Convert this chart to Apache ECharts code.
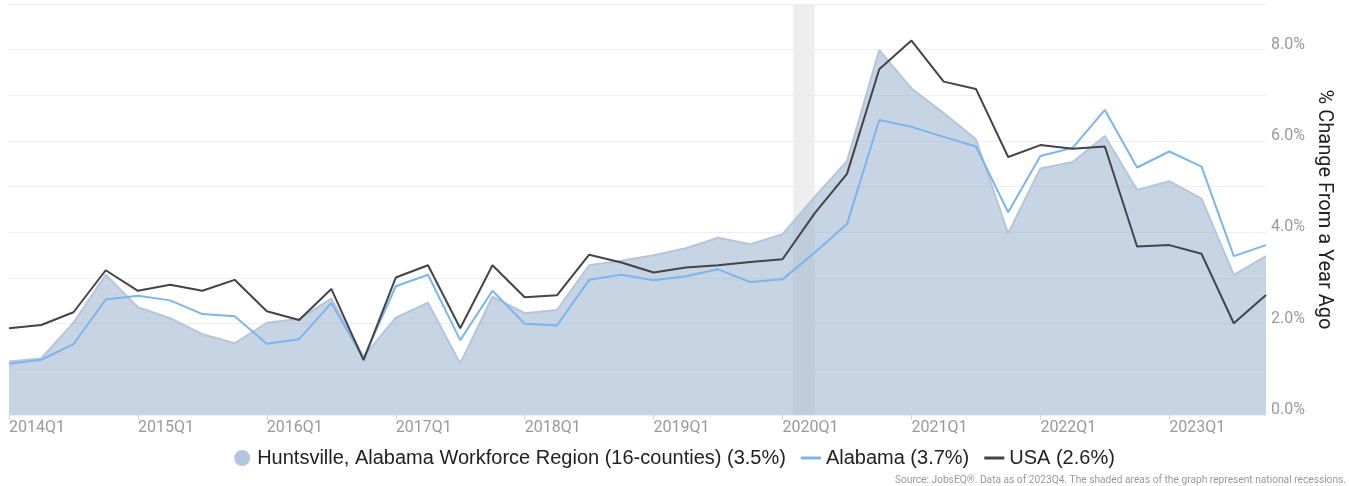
<!DOCTYPE html>
<html>
<head>
<meta charset="utf-8">
<script src="https://cdn.jsdelivr.net/npm/echarts@6/dist/echarts.min.js"></script>
<style>
html,body{margin:0;padding:0;background:#fff;}
#chart{width:1349px;height:486px;}
</style>
</head>
<body>
<div id="chart"></div>
<script>
var quarters = [
  '2014Q1','2014Q2','2014Q3','2014Q4','2015Q1','2015Q2','2015Q3','2015Q4',
  '2016Q1','2016Q2','2016Q3','2016Q4','2017Q1','2017Q2','2017Q3','2017Q4',
  '2018Q1','2018Q2','2018Q3','2018Q4','2019Q1','2019Q2','2019Q3','2019Q4',
  '2020Q1','2020Q2','2020Q3','2020Q4','2021Q1','2021Q2','2021Q3','2021Q4',
  '2022Q1','2022Q2','2022Q3','2022Q4','2023Q1','2023Q2','2023Q3','2023Q4'
];
var huntsville = [
  1.17,1.24,2.02,3.07,2.36,2.12,1.77,1.57,
  2.02,2.10,2.55,1.28,2.13,2.46,1.13,2.59,
  2.23,2.30,3.28,3.38,3.50,3.65,3.88,3.74,
  3.96,4.78,5.56,7.99,7.15,6.61,6.04,3.98,
  5.40,5.54,6.11,4.93,5.12,4.74,3.07,3.48
];
var alabama = [
  1.12,1.21,1.55,2.53,2.61,2.51,2.21,2.16,
  1.56,1.66,2.45,1.24,2.82,3.07,1.64,2.72,
  2.00,1.96,2.96,3.07,2.95,3.04,3.19,2.91,
  2.97,3.56,4.18,6.46,6.31,6.09,5.88,4.44,
  5.67,5.85,6.68,5.42,5.77,5.44,3.48,3.72
];
var usa = [
  1.90,1.97,2.25,3.17,2.72,2.85,2.72,2.96,
  2.27,2.08,2.76,1.20,3.01,3.28,1.90,3.28,
  2.58,2.62,3.51,3.34,3.12,3.23,3.28,3.35,
  3.41,4.42,5.28,7.57,8.20,7.30,7.14,5.65,
  5.91,5.83,5.88,3.69,3.72,3.53,2.01,2.63
];
var seriesNames = [
  'Huntsville, Alabama Workforce Region (16-counties) (3.5%)',
  'Alabama (3.7%)',
  'USA (2.6%)'
];
var xTickIndices = [0,4,8,12,16,20,24,28,32,36];
var yTicks = [0,1,2,3,4,5,6,7,8,9];
var recession = [24.33, 25]; // Feb 2020 - Apr 2020 in quarter-index units
var sourceText = 'Source: JobsEQ®. Data as of 2023Q4. The shaded areas of the graph represent national recessions.';

function pairs(arr){ return arr.map(function(v,i){ return [i,v]; }); }

var chart = echarts.init(document.getElementById('chart'), null, {renderer:'canvas'});
var lineIcon = 'path://M0 0H20V3H0Z';
chart.setOption({
  animation:false,
  grid:{left:9,right:83,top:4,bottom:71},
  xAxis:{
    type:'value', min:0, max:quarters.length-1,
    splitLine:{show:false},
    axisLine:{show:false},
    axisTick:{show:true, length:5, lineStyle:{color:'#ccd6eb'}, customValues:xTickIndices},
    axisLabel:{
      customValues:xTickIndices,
      formatter:function(v){ return quarters[Math.round(v)]; },
      align:'left', color:'#999', fontSize:16, fontFamily:'Roboto', margin:5
    }
  },
  yAxis:{
    type:'value', position:'right', min:yTicks[0], max:yTicks[yTicks.length-1], interval:1,
    name:'% Change From a Year Ago', nameLocation:'middle', nameRotate:-90, nameGap:48,
    nameMoveOverlap:false,
    nameTextStyle:{fontSize:20, color:'#222', fontFamily:'Roboto'},
    axisLine:{show:false}, axisTick:{show:false},
    splitLine:{show:true, lineStyle:{color:'#efefef', width:1}},
    axisLabel:{
      formatter:function(v){ return (Math.round(v)%2===0) ? v.toFixed(1)+'%' : ''; },
      verticalAlign:'bottom', lineHeight:10,
      color:'#999', fontSize:16, fontFamily:'Roboto', margin:5
    }
  },
  legend:{
    left:'center', top:443, itemWidth:20, itemHeight:16, itemGap:15,
    symbolKeepAspect:true,
    textStyle:{fontSize:20, color:'#222', fontFamily:'Liberation Sans, Arial'},
    data:[
      {name:seriesNames[0], icon:'circle'},
      {name:seriesNames[1], icon:lineIcon},
      {name:seriesNames[2], icon:lineIcon}
    ]
  },
  series:[
    {
      type:'line', name:'recession', data:[], z:0, silent:true,
      markArea:{silent:true, itemStyle:{color:'#eeeeee'},
        data:[[{xAxis:recession[0]},{xAxis:recession[1]}]]}
    },
    {
      type:'line', name:seriesNames[0], data:pairs(huntsville), z:2,
      symbol:'none', itemStyle:{color:'#b3c6dd'},
      lineStyle:{color:'#b6c6da', width:2},
      areaStyle:{color:'rgba(143,169,201,0.5)', opacity:1}
    },
    {
      type:'line', name:seriesNames[1], data:pairs(alabama), z:3,
      symbol:'none', itemStyle:{color:'#7cb5ec'},
      lineStyle:{color:'#7cb5ec', width:2}
    },
    {
      type:'line', name:seriesNames[2], data:pairs(usa), z:4,
      symbol:'none', itemStyle:{color:'#434348'},
      lineStyle:{color:'#434348', width:2}
    }
  ],
  graphic:[{
    type:'text', right:3, top:475,
    style:{text:sourceText, fill:'#999', fontSize:10.2, fontFamily:'Roboto'}
  }]
});
</script>
</body>
</html>
